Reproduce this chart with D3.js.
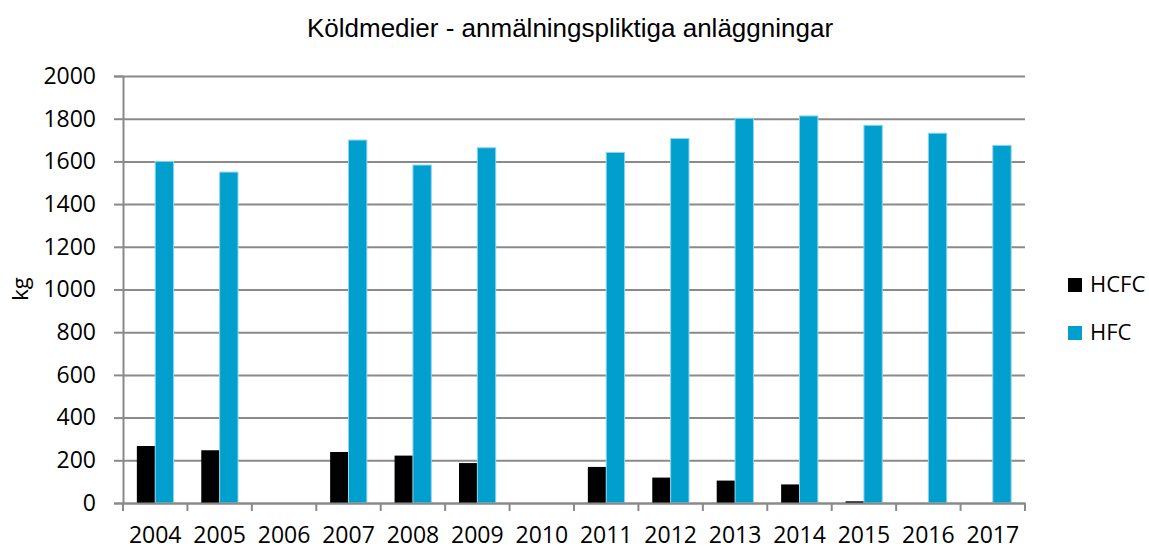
<html>
    <head>
        <style>
            body { margin: 0; background: white; }
            svg { font-family: "Open Sans", sans-serif; }
            .title { font-family: "Liberation Sans", Arial, sans-serif; font-size: 26px; }
            .grid line { stroke: #8a8a8a; stroke-width: 2; }
            .grid path { display: none; }
        </style>
    </head>
    <body>
        <svg width="1149" height="547"></svg>
    </body>
    <script src="https://d3js.org/d3.v7.min.js"></script>
    <script>
        var data = [
            { year: "2004", HCFC: 267, HFC: 1600 },
            { year: "2005", HCFC: 247, HFC: 1550 },
            { year: "2006", HCFC: null, HFC: null },
            { year: "2007", HCFC: 239, HFC: 1700 },
            { year: "2008", HCFC: 222, HFC: 1583 },
            { year: "2009", HCFC: 187, HFC: 1664 },
            { year: "2010", HCFC: null, HFC: null },
            { year: "2011", HCFC: 169, HFC: 1642 },
            { year: "2012", HCFC: 119, HFC: 1707 },
            { year: "2013", HCFC: 105, HFC: 1802 },
            { year: "2014", HCFC: 87, HFC: 1813 },
            { year: "2015", HCFC: 8, HFC: 1769 },
            { year: "2016", HCFC: 0, HFC: 1732 },
            { year: "2017", HCFC: 0, HFC: 1675 }
        ];
        var series = ["HCFC", "HFC"];
        var colors = { HCFC: "#000000", HFC: "#009fce" };

        var svg = d3.select("svg");
        var plotLeft = 123, plotRight = 1025, plotTop = 76, plotBottom = 503,
            innerWidth = plotRight - plotLeft;

        var xScale = d3.scaleBand()
            .domain(data.map(function(d) { return d.year; }))
            .range([plotLeft, plotRight])
            .paddingInner(0.43)
            .paddingOuter(0.215);
        var xSub = d3.scaleBand().domain(series).range([0, xScale.bandwidth()]);
        var yScale = d3.scaleLinear().domain([0, 2000]).range([plotBottom, plotTop]);

        // grid
        svg.append("g")
            .attr("class", "grid")
            .attr("transform", "translate(" + plotLeft + ",0)")
            .call(d3.axisLeft(yScale).ticks(10).tickSize(-innerWidth).tickFormat(""));

        // y axis: outward ticks and labels
        var yAxis = svg.append("g")
            .attr("transform", "translate(" + plotLeft + ",0)")
            .call(d3.axisLeft(yScale).ticks(10).tickSize(9).tickPadding(18).tickFormat(d3.format("d")));
        yAxis.selectAll("line, path").attr("stroke", "#8a8a8a").attr("stroke-width", 2);
        yAxis.selectAll("text").attr("font-size", 23).attr("fill", "#000")
            .attr("font-family", "Open Sans, sans-serif");

        // bars
        var groups = svg.append("g").selectAll("g")
            .data(data)
            .enter()
            .append("g")
            .attr("transform", function(d) { return "translate(" + xScale(d.year) + ",0)"; });

        groups.selectAll("rect")
            .data(function(d) {
                return series.filter(function(s) { return d[s] != null && d[s] > 0; })
                    .map(function(s) { return { key: s, value: d[s] }; });
            })
            .enter()
            .append("rect")
            .attr("x", function(d) { return xSub(d.key); })
            .attr("width", xSub.bandwidth())
            .attr("y", function(d) { return yScale(d.value); })
            .attr("height", function(d) { return yScale(0) - yScale(d.value); })
            .attr("fill", function(d) { return colors[d.key]; })
            .attr("stroke", function(d) { return d.key == "HFC" ? "#8fd4ec" : "none"; })
            .attr("stroke-width", 1);

        // x axis
        var xAxis = svg.append("g")
            .attr("transform", "translate(0," + plotBottom + ")")
            .call(d3.axisBottom(xScale).tickSize(0).tickPadding(0));
        xAxis.select("path").attr("stroke", "#8a8a8a").attr("stroke-width", 2);
        xAxis.selectAll("text").attr("font-size", 23).attr("fill", "#000")
            .attr("font-family", "Open Sans, sans-serif")
            .attr("dy", 0).attr("y", 40);

        // tick marks at category boundaries
        svg.append("g").selectAll("line")
            .data(d3.range(data.length + 1))
            .enter()
            .append("line")
            .attr("x1", function(i) { return plotLeft + i * xScale.step(); })
            .attr("x2", function(i) { return plotLeft + i * xScale.step(); })
            .attr("y1", plotBottom)
            .attr("y2", plotBottom + 8)
            .attr("stroke", "#8a8a8a")
            .attr("stroke-width", 2);

        // title
        svg.append("text")
            .attr("class", "title")
            .attr("x", 570)
            .attr("y", 37)
            .attr("text-anchor", "middle")
            .text("Köldmedier - anmälningspliktiga anläggningar");

        // y label
        svg.append("text")
            .attr("transform", "translate(28,289) rotate(-90)")
            .attr("text-anchor", "middle")
            .attr("font-size", 22)
            .text("kg");

        // legend
        var legend = svg.append("g").selectAll("g")
            .data(series)
            .enter()
            .append("g")
            .attr("transform", function(d, i) { return "translate(1068," + (278 + i * 48) + ")"; });
        legend.append("rect")
            .attr("width", 14)
            .attr("height", 14)
            .attr("fill", function(d) { return colors[d]; });
        legend.append("text")
            .attr("x", 22)
            .attr("y", 14)
            .attr("font-size", 22)
            .text(function(d) { return d; });
    </script>
</html>
